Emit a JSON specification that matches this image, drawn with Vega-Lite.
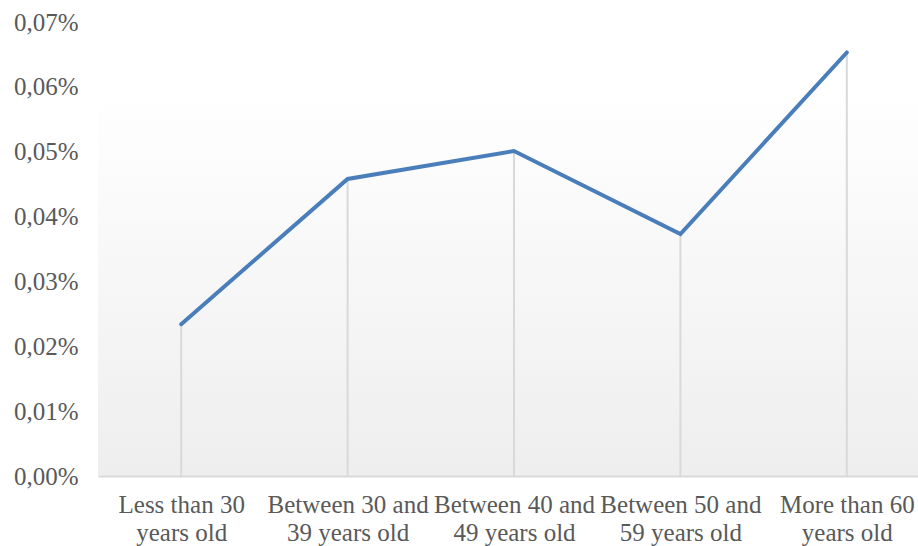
{
  "$schema": "https://vega.github.io/schema/vega-lite/v6.json",
  "width": 832,
  "height": 454,
  "autosize": {"type": "none"},
  "padding": {"left": 98, "top": 22, "right": -12, "bottom": 70},
  "background": "white",
  "view": {
    "stroke": null,
    "fill": {
      "gradient": "linear",
      "x1": 0, "y1": 0, "x2": 0, "y2": 1,
      "stops": [
        {"offset": 0, "color": "#ffffff"},
        {"offset": 0.15, "color": "#ffffff"},
        {"offset": 1, "color": "#eeeeee"}
      ]
    }
  },
  "config": {
    "font": "Times New Roman, Liberation Serif, DejaVu Serif, serif",
    "axis": {"labelFont": "Times New Roman, Liberation Serif, DejaVu Serif, serif", "labelFontSize": 25, "labelColor": "#595959", "ticks": false, "grid": false, "domain": false, "title": null}
  },
  "data": {
    "values": [
      {"age": "Less than 30 years old", "share": 0.000234},
      {"age": "Between 30 and 39 years old", "share": 0.000458},
      {"age": "Between 40 and 49 years old", "share": 0.000501},
      {"age": "Between 50 and 59 years old", "share": 0.000373},
      {"age": "More than 60 years old", "share": 0.000653}
    ]
  },
  "encoding": {
    "x": {"field": "age", "type": "nominal", "sort": null,
      "scale": {"type": "point", "padding": 0.5},
      "axis": {"labelAngle": 0, "labelPadding": 16, "labelLineHeight": 28, "labelBaseline": "top",
        "labelExpr": "indexof(datum.label, 'Between') == 0 ? [slice(datum.label, 0, 14), slice(datum.label, 15)] : [slice(datum.label, 0, 12), slice(datum.label, 13)]"}},
    "y": {"field": "share", "type": "quantitative",
      "scale": {"domain": [0, 0.0007], "nice": false},
      "axis": {"values": [0, 0.0001, 0.0002, 0.0003, 0.0004, 0.0005, 0.0006, 0.0007], "labelPadding": 20,
        "grid": true, "gridColor": "#d9d9d9", "gridWidth": 2,
        "gridOpacity": {"condition": {"test": "datum.value === 0", "value": 1}, "value": 0},
        "labelExpr": "replace(format(datum.value, '.2%'), '.', ',')"}}
  },
  "layer": [
    {
      "mark": {"type": "bar", "size": 2, "color": "#d9d9d9"}
    },
    {
      "mark": {"type": "line", "color": "#4a7ebb", "strokeWidth": 4, "strokeCap": "round", "strokeJoin": "miter"}
    }
  ]
}
